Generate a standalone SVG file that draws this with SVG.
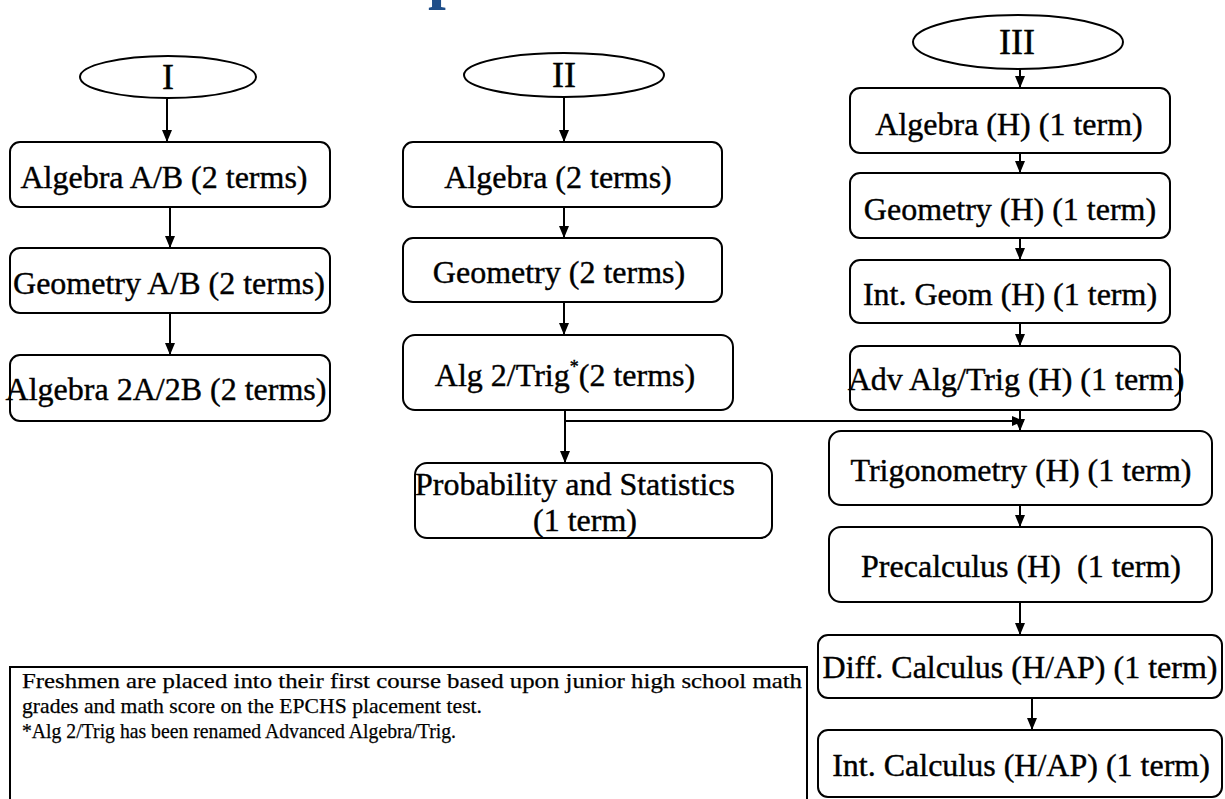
<svg xmlns="http://www.w3.org/2000/svg" width="1225" height="799" viewBox="0 0 1225 799">
<defs>
<style>
.box{fill:#fff;stroke:#000;stroke-width:2}
.ell{fill:#fff;stroke:#000;stroke-width:2}
.t{font-family:"Liberation Serif","Times New Roman",serif;font-size:32px;fill:#000;stroke:#000;stroke-width:0.4;text-anchor:middle}
.r{font-family:"Liberation Serif","Times New Roman",serif;font-size:36px;fill:#000;stroke:#000;stroke-width:0.4;text-anchor:middle}
.n{font-family:"Liberation Serif","Times New Roman",serif;font-size:21.5px;fill:#000;stroke:#000;stroke-width:0.25}
.c{fill:none;stroke:#000;stroke-width:2}
</style>
<marker id="ah" markerUnits="userSpaceOnUse" markerWidth="12" markerHeight="10" refX="12" refY="5" orient="auto">
<path d="M0,0 L12,5 L0,10 z" fill="#000"/>
</marker>
</defs>
<rect width="1225" height="799" fill="#fff"/>
<text x="428" y="-4" font-family="Liberation Serif, serif" font-weight="bold" font-size="64" fill="#1f4e89">p</text>

<g id="connectors">
<path class="c" d="M167,99 V142" marker-end="url(#ah)"/>
<path class="c" d="M170,207 V248" marker-end="url(#ah)"/>
<path class="c" d="M170,313 V355" marker-end="url(#ah)"/>
<path class="c" d="M564,97 V142" marker-end="url(#ah)"/>
<path class="c" d="M564,207 V238" marker-end="url(#ah)"/>
<path class="c" d="M564,302 V335" marker-end="url(#ah)"/>
<path class="c" d="M565,410 V463" marker-end="url(#ah)"/>
<path class="c" d="M565,421 H1024" marker-end="url(#ah)"/>
<path class="c" d="M1020,69 V88" marker-end="url(#ah)"/>
<path class="c" d="M1020,153 V173" marker-end="url(#ah)"/>
<path class="c" d="M1020,238 V260" marker-end="url(#ah)"/>
<path class="c" d="M1020,323 V346" marker-end="url(#ah)"/>
<path class="c" d="M1020,410 V431" marker-end="url(#ah)"/>
<path class="c" d="M1020,505 V527" marker-end="url(#ah)"/>
<path class="c" d="M1020,602 V635" marker-end="url(#ah)"/>
<path class="c" d="M1032,698 V730" marker-end="url(#ah)"/>
</g>

<g id="nI"><ellipse class="ell" cx="168" cy="77" rx="88" ry="21"/><text class="r" x="168" y="89">I</text></g>
<g id="nII"><ellipse class="ell" cx="564" cy="75" rx="100" ry="22"/><text class="r" x="564" y="87">II</text></g>
<g id="nIII"><ellipse class="ell" cx="1018" cy="42" rx="105" ry="27"/><text class="r" x="1017" y="54">III</text></g>

<g id="algAB"><rect class="box" x="10" y="142" width="320" height="65" rx="10"/><text class="t" x="164" y="188">Algebra A/B (2 terms)</text></g>
<g id="geoAB"><rect class="box" x="10" y="248" width="320" height="65" rx="10"/><text class="t" x="169" y="294">Geometry A/B (2 terms)</text></g>
<g id="alg2AB"><rect class="box" x="10" y="355" width="320" height="66" rx="10"/><text class="t" x="166" y="400">Algebra 2A/2B (2 terms)</text></g>

<g id="alg"><rect class="box" x="403" y="142" width="319" height="65" rx="10"/><text class="t" x="558" y="188">Algebra (2 terms)</text></g>
<g id="geo"><rect class="box" x="403" y="238" width="319" height="64" rx="10"/><text class="t" x="559" y="283">Geometry (2 terms)</text></g>
<g id="alg2trig"><rect class="box" x="403" y="335" width="330" height="75" rx="12"/><text class="t" x="565" y="386">Alg 2/Trig<tspan font-size="18" dy="-13">*</tspan><tspan dy="13">(2 terms)</tspan></text></g>
<g id="prob"><rect class="box" x="415" y="463" width="357" height="75" rx="12"/><text class="t" x="575" y="495">Probability and Statistics</text><text class="t" x="585" y="531">(1 term)</text></g>

<g id="algH"><rect class="box" x="850" y="88" width="320" height="65" rx="10"/><text class="t" x="1009" y="135">Algebra (H) (1 term)</text></g>
<g id="geoH"><rect class="box" x="850" y="173" width="320" height="65" rx="10"/><text class="t" x="1010" y="220">Geometry (H) (1 term)</text></g>
<g id="intgeom"><rect class="box" x="850" y="260" width="320" height="63" rx="10"/><text class="t" x="1010" y="305">Int. Geom (H) (1 term)</text></g>
<g id="advalg"><rect class="box" x="850" y="346" width="330" height="64" rx="10"/><text class="t" x="1016" y="390">Adv Alg/Trig (H) (1 term)</text></g>
<g id="trig"><rect class="box" x="829" y="431" width="383" height="74" rx="12"/><text class="t" x="1021" y="481">Trigonometry (H) (1 term)</text></g>
<g id="precalc"><rect class="box" x="829" y="527" width="383" height="75" rx="12"/><text class="t" x="1021" y="577" xml:space="preserve">Precalculus (H)  (1 term)</text></g>
<g id="diff"><rect class="box" x="818" y="635" width="404" height="63" rx="10"/><text class="t" x="1020" y="678">Diff. Calculus (H/AP) (1 term)</text></g>
<g id="intcalc"><rect class="box" x="818" y="730" width="404" height="67" rx="10"/><text class="t" x="1021" y="776">Int. Calculus (H/AP) (1 term)</text></g>

<g id="note"><rect x="10" y="667" width="797" height="150" fill="#fff" stroke="#000" stroke-width="2"/>
<text class="n" x="22" y="688" textLength="780" lengthAdjust="spacingAndGlyphs">Freshmen are placed into their first course based upon junior high school math</text>
<text class="n" x="22" y="713" textLength="460" lengthAdjust="spacingAndGlyphs">grades and math score on the EPCHS placement test.</text>
<text class="n" x="22" y="738" textLength="434" lengthAdjust="spacingAndGlyphs">*Alg 2/Trig has been renamed Advanced Algebra/Trig.</text>
</g>
</svg>
